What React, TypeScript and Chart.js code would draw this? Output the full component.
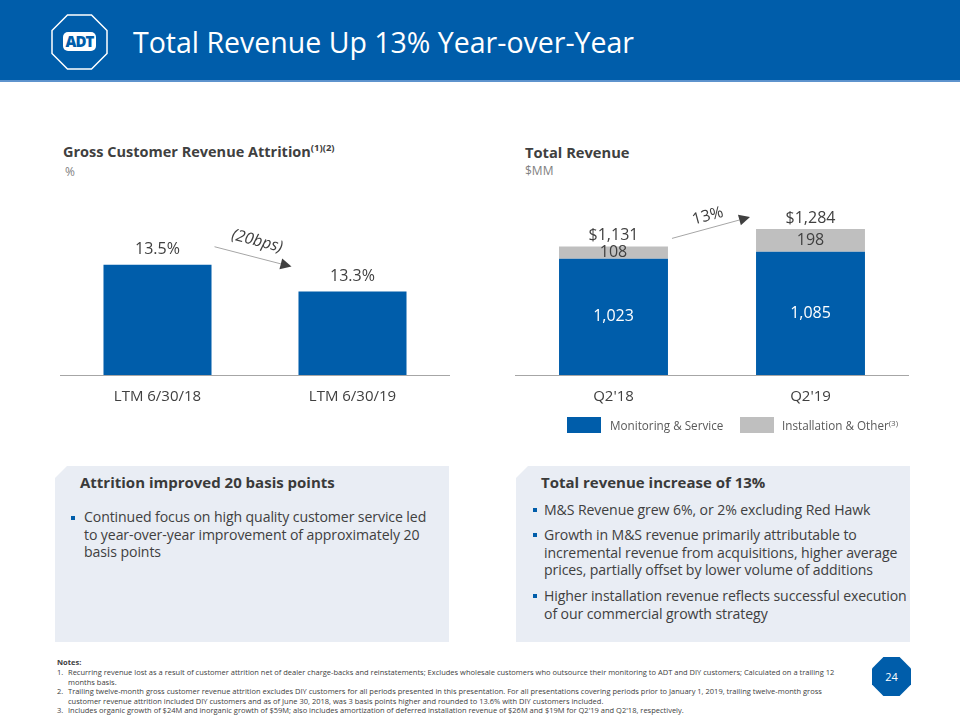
import React, { useEffect, useRef } from "react";
import { Chart, registerables } from "chart.js";

Chart.register(...registerables);

const FONT = "'Open Sans', 'Noto Sans', sans-serif";
const BLUE = "#005DAA";
const GRAY = "#BFBFBF";
const DARK = "#404040";
const AXIS = "#A6A6A6";

// ---- Left chart data ----
const attritionCategories = ["LTM 6/30/18", "LTM 6/30/19"];
const attritionValues = [13.5, 13.3];
const attritionValueLabels = ["13.5%", "13.3%"];
const attritionChangeLabel = "(20bps)";
const attritionAxisMin = 12.68;
const attritionAxisMax = 14.13;

// ---- Right chart data ----
const revenueCategories = ["Q2'18", "Q2'19"];
const seriesNames = ["Monitoring & Service", "Installation & Other"];
const monitoringValues = [1023, 1085];
const installationValues = [108, 198];
const monitoringLabels = ["1,023", "1,085"];
const installationLabels = ["108", "198"];
const totalLabels = ["$1,131", "$1,284"];
const revenueChangeLabel = "13%";
const revenueAxisMin = 0;
const revenueAxisMax = 1715;

function drawArrow(
  ctx: CanvasRenderingContext2D,
  x0: number,
  y0: number,
  x1: number,
  y1: number,
  label: string,
  italic: boolean,
  offset: number
) {
  const a = Math.atan2(y1 - y0, x1 - x0);
  const head = 11;
  const hw = 5.5;
  const bx = x1 - head * Math.cos(a);
  const by = y1 - head * Math.sin(a);
  ctx.save();
  ctx.strokeStyle = AXIS;
  ctx.lineWidth = 1;
  ctx.beginPath();
  ctx.moveTo(x0, y0);
  ctx.lineTo(bx, by);
  ctx.stroke();
  ctx.fillStyle = DARK;
  ctx.beginPath();
  ctx.moveTo(x1, y1);
  ctx.lineTo(bx + hw * Math.sin(a), by - hw * Math.cos(a));
  ctx.lineTo(bx - hw * Math.sin(a), by + hw * Math.cos(a));
  ctx.closePath();
  ctx.fill();
  const mx = (x0 + x1) / 2 + offset * Math.sin(a);
  const my = (y0 + y1) / 2 - offset * Math.cos(a);
  ctx.translate(mx, my);
  ctx.rotate(a);
  ctx.font = `${italic ? "italic " : ""}16px ${FONT}`;
  ctx.textAlign = "center";
  ctx.textBaseline = "middle";
  ctx.fillStyle = DARK;
  ctx.fillText(label, 0, 0);
  ctx.restore();
}

function xScale(stacked: boolean) {
  return {
    stacked,
    grid: { display: false, drawTicks: false },
    border: { display: true, color: AXIS, width: 1 },
    ticks: { color: DARK, font: { family: FONT, size: 15 }, padding: 13 },
  };
}

export default function App() {
  const leftRef = useRef<HTMLCanvasElement>(null);
  const rightRef = useRef<HTMLCanvasElement>(null);

  useEffect(() => {
    const leftLabels = {
      id: "leftLabels",
      afterDatasetsDraw(chart: any) {
        const ctx = chart.ctx as CanvasRenderingContext2D;
        const meta = chart.getDatasetMeta(0);
        ctx.save();
        ctx.font = `16px ${FONT}`;
        ctx.fillStyle = DARK;
        ctx.textAlign = "center";
        ctx.textBaseline = "middle";
        meta.data.forEach((b: any, i: number) => {
          ctx.fillText(attritionValueLabels[i], b.x, b.y - 15);
        });
        ctx.restore();
        const b0 = meta.data[0];
        const b1 = meta.data[1];
        drawArrow(
          ctx,
          b0.x + b0.width / 2 + 3,
          b0.y - 18,
          b1.x - b1.width / 2 - 7,
          b1.y - 25,
          attritionChangeLabel,
          true,
          16
        );
      },
    };

    const rightLabels = {
      id: "rightLabels",
      afterDatasetsDraw(chart: any) {
        const ctx = chart.ctx as CanvasRenderingContext2D;
        const m0 = chart.getDatasetMeta(0);
        const m1 = chart.getDatasetMeta(1);
        ctx.save();
        ctx.font = `16px ${FONT}`;
        ctx.textAlign = "center";
        ctx.textBaseline = "middle";
        m0.data.forEach((b: any, i: number) => {
          ctx.fillStyle = "#FFFFFF";
          ctx.fillText(monitoringLabels[i], b.x, (b.y + b.base) / 2);
        });
        m1.data.forEach((b: any, i: number) => {
          ctx.fillStyle = DARK;
          ctx.fillText(installationLabels[i], b.x, (b.y + b.base) / 2);
          ctx.fillText(totalLabels[i], b.x, b.y - 11);
        });
        ctx.restore();
        const b0 = m1.data[0];
        const b1 = m1.data[1];
        drawArrow(
          ctx,
          b0.x + b0.width / 2 + 4,
          b0.y - 8,
          b1.x - b1.width / 2 - 6,
          b1.y - 12,
          revenueChangeLabel,
          false,
          12
        );
      },
    };

    const left = new Chart(leftRef.current!, {
      type: "bar",
      data: {
        labels: attritionCategories,
        datasets: [
          {
            data: attritionValues,
            backgroundColor: BLUE,
            barPercentage: 0.554,
            categoryPercentage: 1,
          },
        ],
      },
      options: {
        responsive: false,
        animation: false,
        layout: { padding: 0 },
        plugins: { legend: { display: false }, tooltip: { enabled: false } },
        scales: {
          x: xScale(false) as any,
          y: { display: false, min: attritionAxisMin, max: attritionAxisMax },
        },
      },
      plugins: [leftLabels],
    });

    const right = new Chart(rightRef.current!, {
      type: "bar",
      data: {
        labels: revenueCategories,
        datasets: [
          {
            label: seriesNames[0],
            data: monitoringValues,
            backgroundColor: BLUE,
            barPercentage: 0.553,
            categoryPercentage: 1,
          },
          {
            label: seriesNames[1],
            data: installationValues,
            backgroundColor: GRAY,
            barPercentage: 0.553,
            categoryPercentage: 1,
          },
        ],
      },
      options: {
        responsive: false,
        animation: false,
        layout: { padding: 0 },
        plugins: { legend: { display: false }, tooltip: { enabled: false } },
        scales: {
          x: xScale(true) as any,
          y: { display: false, stacked: true, min: revenueAxisMin, max: revenueAxisMax },
        },
      },
      plugins: [rightLabels],
    });

    return () => {
      left.destroy();
      right.destroy();
    };
  }, []);

  const abs = (s: React.CSSProperties): React.CSSProperties => ({ position: "absolute", ...s });
  const bullet = (left: number, top: number) => (
    <div style={abs({ left, top, width: 4, height: 4, background: BLUE })} />
  );
  const boxClip = "polygon(12px 0, 100% 0, 100% 100%, 0 100%, 0 12px)";
  const bodyText: React.CSSProperties = {
    fontSize: 14.1,
    lineHeight: "17.5px",
    letterSpacing: "-0.1px",
    color: DARK,
    whiteSpace: "nowrap",
  };
  const boxHead: React.CSSProperties = {
    lineHeight: "20px",
    fontSize: 15,
    fontWeight: 700,
    color: "#3A3A3A",
    whiteSpace: "nowrap",
  };

  return (
    <div
      style={abs({
        left: 0,
        top: 0,
        width: 960,
        height: 720,
        background: "#FFFFFF",
        fontFamily: FONT,
        overflow: "hidden",
      })}
    >
      {/* Header */}
      <div style={abs({ left: 0, top: 0, width: 960, height: 80, background: BLUE })} />
      <div style={abs({ left: 0, top: 80, width: 960, height: 2, background: "#5E93CD" })} />
      <svg style={abs({ left: 51, top: 14 })} width={57} height={56} viewBox="0 0 57 56">
        <polygon
          points="16.5,1 40.5,1 56,16.5 56,39.5 40.5,55 16.5,55 1,39.5 1,16.5"
          fill="none"
          stroke="#FFFFFF"
          strokeWidth={1.5}
        />
        <rect x={12} y={18} width={33} height={19} rx={5} fill="#FFFFFF" />
        <text
          x={28.5}
          y={32.5}
          textAnchor="middle"
          fontFamily={FONT}
          fontWeight={800}
          fontSize={15}
          letterSpacing={-1}
          fill={BLUE}
        >
          ADT
        </text>
      </svg>
      <div
        style={abs({
          left: 133,
          top: 22,
          height: 40,
          lineHeight: "40px",
          fontSize: 28.5,
          color: "#FFFFFF",
          whiteSpace: "nowrap",
        })}
      >
        Total Revenue Up 13% Year-over-Year
      </div>

      {/* Left chart titles */}
      <div
        style={abs({
          left: 63,
          top: 142,
          lineHeight: "20px",
          fontSize: 14.5,
          fontWeight: 700,
          color: DARK,
          whiteSpace: "nowrap",
        })}
      >
        Gross Customer Revenue Attrition
        <span style={{ fontSize: 9.5, position: "relative", top: -6 }}>(1)(2)</span>
      </div>
      <div style={abs({ left: 65, top: 164, lineHeight: "16px", fontSize: 12, color: "#7F7F7F" })}>%</div>

      {/* Right chart titles */}
      <div
        style={abs({
          left: 525,
          top: 142,
          lineHeight: "20px",
          fontSize: 14.7,
          fontWeight: 700,
          color: DARK,
          whiteSpace: "nowrap",
        })}
      >
        Total Revenue
      </div>
      <div style={abs({ left: 525, top: 163, lineHeight: "16px", fontSize: 12, color: "#7F7F7F" })}>$MM</div>

      {/* Charts */}
      <canvas ref={leftRef} width={390} height={239} style={abs({ left: 60, top: 180 })} />
      <canvas ref={rightRef} width={394} height={239} style={abs({ left: 515, top: 180 })} />

      {/* Legend */}
      <div style={abs({ left: 567, top: 417, width: 34, height: 16, background: BLUE })} />
      <div style={abs({ left: 610, top: 417, lineHeight: "16px", fontSize: 11.7, color: "#595959", whiteSpace: "nowrap" })}>
        {seriesNames[0]}
      </div>
      <div style={abs({ left: 740, top: 417, width: 34, height: 16, background: GRAY })} />
      <div style={abs({ left: 782, top: 417, lineHeight: "16px", fontSize: 11.7, color: "#595959", whiteSpace: "nowrap" })}>
        {seriesNames[1]}
        <span style={{ fontSize: 8, position: "relative", top: -4 }}>(3)</span>
      </div>

      {/* Left text box */}
      <div style={abs({ left: 55, top: 466, width: 394, height: 176, background: "#E9EDF4", clipPath: boxClip })}>
        <div style={abs({ left: 25, top: 6, ...boxHead })}>Attrition improved 20 basis points</div>
        {bullet(15.5, 49.5)}
        <div style={abs({ left: 29, top: 42, ...bodyText })}>
          Continued focus on high quality customer service led
          <br />
          to year-over-year improvement of approximately 20
          <br />
          basis points
        </div>
      </div>

      {/* Right text box */}
      <div style={abs({ left: 516, top: 466, width: 394, height: 176, background: "#E9EDF4", clipPath: boxClip })}>
        <div style={abs({ left: 25, top: 6, ...boxHead })}>Total revenue increase of 13%</div>
        {bullet(17, 42)}
        <div style={abs({ left: 28, top: 35, ...bodyText })}>M&amp;S Revenue grew 6%, or 2% excluding Red Hawk</div>
        {bullet(17, 67)}
        <div style={abs({ left: 28, top: 60, ...bodyText })}>
          Growth in M&amp;S revenue primarily attributable to
          <br />
          incremental revenue from acquisitions, higher average
          <br />
          prices, partially offset by lower volume of additions
        </div>
        {bullet(17, 128)}
        <div style={abs({ left: 28, top: 121, ...bodyText })}>
          Higher installation revenue reflects successful execution
          <br />
          of our commercial growth strategy
        </div>
      </div>

      {/* Notes */}
      <div style={abs({ left: 57, top: 657, lineHeight: "10px", fontSize: 7.5, fontWeight: 700, color: DARK })}>Notes:</div>
      <div style={abs({ left: 57, top: 668, fontSize: 7.5, lineHeight: "9.6px", color: DARK, whiteSpace: "nowrap" })}>
        {[
          [
            "1.",
            "Recurring revenue lost as a result of customer attrition net of dealer charge-backs and reinstatements; Excludes wholesale customers who outsource their monitoring to ADT and DIY customers; Calculated on a trailing 12",
            "months basis.",
          ],
          [
            "2.",
            "Trailing twelve-month gross customer revenue attrition excludes DIY customers for all periods presented in this presentation. For all presentations covering periods prior to January 1, 2019, trailing twelve-month gross",
            "customer revenue attrition included DIY customers and as of June 30, 2018, was 3 basis points higher and rounded to 13.6% with DIY customers included.",
          ],
          [
            "3.",
            "Includes organic growth of $24M and inorganic growth of $59M; also includes amortization of deferred installation revenue of $26M and $19M for Q2'19 and Q2'18, respectively.",
          ],
        ].map((item, i) => (
          <div key={i} style={{ position: "relative", paddingLeft: 11 }}>
            <span style={{ position: "absolute", left: 0 }}>{item[0]}</span>
            {item.slice(1).map((line, j) => (
              <div key={j}>{line}</div>
            ))}
          </div>
        ))}
      </div>

      {/* Page number */}
      <svg style={abs({ left: 872, top: 657 })} width={39} height={39} viewBox="0 0 39 39">
        <polygon points="11.4,0 27.6,0 39,11.4 39,27.6 27.6,39 11.4,39 0,27.6 0,11.4" fill={BLUE} />
        <text x={19.5} y={23.5} textAnchor="middle" fontFamily={FONT} fontSize={11} fill="#FFFFFF">
          24
        </text>
      </svg>
    </div>
  );
}
